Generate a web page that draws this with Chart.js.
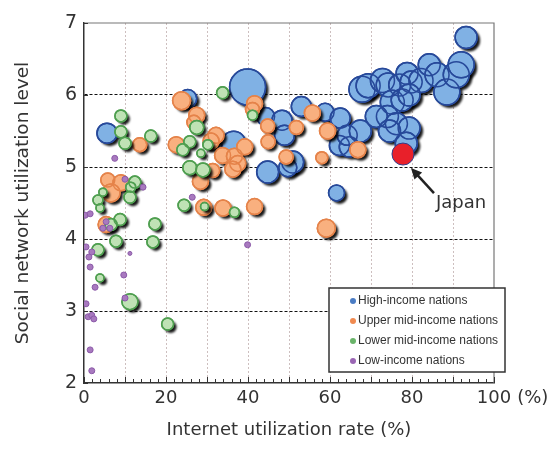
<!DOCTYPE html>
<html>
<head>
<meta charset="utf-8">
<script src="https://cdn.jsdelivr.net/npm/chart.js@4.4.1/dist/chart.umd.min.js"></script>
<style>
  html, body { margin:0; padding:0; background:#fff; }
  #wrap { width:555px; height:460px; }
</style>
</head>
<body>
<div id="wrap"><canvas id="js-sns-chart" width="555" height="460"></canvas></div>
<script>
  /* ━━━━  DATA  ━━━━ */
  // each point: [internet utilization %, social network level, bubble radius px]
  const CATEGORIES = ['High-income nations', 'Upper mid-income nations', 'Lower mid-income nations', 'Low-income nations'];
  const X_TICKS = [0, 20, 40, 60, 80, 100];
  const Y_TICKS = [2, 3, 4, 5, 6, 7];

  const highIncome = [
    [5.6,5.47,10],[25.3,5.95,9],[39.9,6.11,18],[36.5,5.33,12],[44.3,5.7,9],[48.3,5.65,10],
    [48.9,5.44,10],[53,5.84,10],[50.9,5.07,11],[49.7,4.99,9],[44.8,4.93,11],[58.8,5.76,9],
    [62.5,5.68,10],[62.3,5.3,10],[64.7,5.28,10],[64.2,5.44,10],[67.4,5.5,11],[61.6,4.64,8],
    [67.8,6.08,13],[69.3,6.13,12],[72.8,6.2,12],[74.2,6.14,12],[77,6.14,11],[78.8,6.3,11],
    [79.8,6.18,11],[82.2,6.2,12],[84.2,6.42,11],[86.1,6.28,12],[88.5,6.04,13],[90.8,6.28,13],
    [92,6.42,13],[93.2,6.8,11],[75.2,5.9,12],[77.6,5.93,11],[79.3,6.0,11],[74,5.7,11],
    [71.3,5.7,11],[76.2,5.6,11],[79.3,5.54,11],[74.5,5.5,11],[78.6,5.33,11]
  ];
  const upperMid = [
    [23.8,5.92,9],[27.5,5.72,8],[26.8,5.62,7],[22.5,5.31,8],[13.6,5.31,7],[32.2,5.44,8],
    [31,5.36,8],[33.8,5.16,8],[36.7,5.15,8],[37.5,5.05,8],[39.2,5.28,8],[36.3,4.97,8],
    [31.4,4.95,7],[28.4,4.8,8],[41.6,5.88,8],[41.1,5.8,7],[44.8,5.57,7],[44.9,5.35,7],
    [51.8,5.55,7],[49.3,5.14,7],[55.7,5.75,8],[59.4,5.5,8],[58,5.13,6],[66.8,5.24,8],
    [41.6,4.45,8],[33.9,4.43,8],[29.2,4.44,8],[59.1,4.15,9],[5.8,4.82,7],[9,4.78,8],
    [6.6,4.64,9],[5.4,4.2,8]
  ];
  const lowerMid = [
    [9,5.71,6],[9,5.49,6],[10,5.33,6],[16.3,5.43,6],[33.8,6.03,6],[41.1,5.72,5],
    [27.5,5.55,7],[30.2,5.31,5],[25.8,5.35,6],[24.1,5.24,6],[28.5,5.19,4],[25.8,4.99,7],
    [29,4.96,7],[12.4,4.79,6],[11.4,4.72,5],[4.6,4.65,4],[11.2,4.58,6],[3.4,4.54,5],
    [3.9,4.43,4],[24.4,4.47,6],[29.4,4.45,4],[36.7,4.37,5],[8.8,4.27,6],[6.6,4.2,6],
    [17.3,4.21,6],[7.8,3.97,6],[16.8,3.96,6],[3.4,3.85,6],[3.9,3.46,4],[11.2,3.13,8],
    [20.4,2.82,6]
  ];
  const lowIncome = [
    [7.5,5.12,3],[10,4.83,3],[14.4,4.72,3],[26.4,4.58,3],[0.3,4.33,3],[1.5,4.35,3],
    [5.4,4.24,3],[4.6,4.15,3],[6.3,4.15,3],[0.5,3.89,3],[1.9,3.82,3],[11.2,3.8,2],
    [1.2,3.75,3],[1.5,3.61,3],[9.7,3.5,3],[2.7,3.33,3],[0.5,3.1,3],[10,3.18,3],
    [1,2.92,3],[1.9,2.94,3],[2.4,2.89,3],[1.5,2.46,3],[1.9,2.17,3],[39.9,3.92,3]
  ];
  const japan = [[77.8,5.18,11]];

  /* ━━━━  UTILS  ━━━━ */
  const FONT = "'Liberation Sans', Arial, sans-serif";
  const WIDE = "'DejaVu Sans', sans-serif";
  const toPoints = arr => arr.map(([x, y, r]) => ({ x, y, r }));
  const getEl = id => document.getElementById(id);

  /* ━━━━  PLUGINS  ━━━━ */
  // drop shadow under each series, then outlines redrawn on top so overlaps read as rings
  const bubbleShade = {
    id: 'bubbleShade',
    beforeDatasetDraw(chart, args) {
      const ds = chart.data.datasets[args.index];
      if (!ds.shadow) return;
      const ctx = chart.ctx;
      ctx.save();
      ctx.fillStyle = 'rgba(0,0,0,0.9)';
      ctx.filter = 'blur(1px)';
      args.meta.data.forEach(el => {
        ctx.beginPath();
        ctx.arc(el.x + 3, el.y + 3, el.options.radius, 0, Math.PI * 2);
        ctx.fill();
      });
      ctx.restore();
    },
    afterDatasetDraw(chart, args) {
      const ds = chart.data.datasets[args.index];
      if (!ds.shadow) return;
      const ctx = chart.ctx;
      ctx.save();
      args.meta.data.forEach(el => {
        ctx.beginPath();
        ctx.arc(el.x, el.y, el.options.radius, 0, Math.PI * 2);
        ctx.lineWidth = el.options.borderWidth;
        ctx.strokeStyle = el.options.borderColor;
        ctx.stroke();
      });
      ctx.restore();
    }
  };

  // frame, minor ticks, "(%)" unit
  const frame = {
    id: 'frame',
    beforeDatasetsDraw(chart) {
      const { ctx, chartArea: a, scales: { x, y } } = chart;
      ctx.save();
      ctx.strokeStyle = '#777';
      ctx.lineWidth = 1.2;
      ctx.beginPath();
      ctx.moveTo(a.left, a.top); ctx.lineTo(a.right, a.top); ctx.lineTo(a.right, a.bottom);
      ctx.stroke();
      ctx.strokeStyle = '#333';
      ctx.lineWidth = 1;
      ctx.beginPath();
      for (let v = 0; v <= 100; v += 2) {
        const px = Math.round(x.getPixelForValue(v)) + 0.5;
        const len = v % 10 === 0 ? 6 : 4;
        ctx.moveTo(px, a.bottom); ctx.lineTo(px, a.bottom - len);
      }
      Y_TICKS.forEach(v => {
        const py = Math.round(y.getPixelForValue(v)) + 0.5;
        ctx.moveTo(a.left, py); ctx.lineTo(a.left + 4, py);
      });
      ctx.stroke();
      ctx.restore();
    },
    afterDraw(chart) {
      const { ctx, chartArea: a, scales: { x } } = chart;
      ctx.save();
      ctx.font = '18px ' + WIDE;
      ctx.fillStyle = '#333';
      ctx.textBaseline = 'middle';
      const px = x.getPixelForValue(100) + ctx.measureText('100').width / 2 + 6;
      ctx.fillText('(%)', px, a.bottom + 15);
      ctx.restore();
    }
  };

  // Japan call-out
  const japanNote = {
    id: 'japanNote',
    afterDatasetsDraw(chart) {
      const idx = chart.data.datasets.findIndex(d => d.label === 'Japan');
      const el = chart.getDatasetMeta(idx).data[0];
      if (!el) return;
      const ctx = chart.ctx;
      const tx = el.x + 8, ty = el.y + 14, fx = el.x + 31, fy = el.y + 39;
      const ang = Math.atan2(ty - fy, tx - fx);
      ctx.save();
      ctx.strokeStyle = '#222';
      ctx.fillStyle = '#222';
      ctx.lineWidth = 2.5;
      ctx.beginPath();
      ctx.moveTo(fx, fy);
      ctx.lineTo(tx - Math.cos(ang) * 8, ty - Math.sin(ang) * 8);
      ctx.stroke();
      ctx.beginPath();
      ctx.moveTo(tx, ty);
      ctx.lineTo(tx - Math.cos(ang - 0.45) * 12, ty - Math.sin(ang - 0.45) * 12);
      ctx.lineTo(tx - Math.cos(ang + 0.45) * 12, ty - Math.sin(ang + 0.45) * 12);
      ctx.closePath();
      ctx.fill();
      ctx.fillStyle = '#333';
      ctx.font = '18px ' + WIDE;
      ctx.textBaseline = 'middle';
      ctx.fillText('Japan', el.x + 33, el.y + 49);
      ctx.restore();
    }
  };

  // legend box inside the plot, lower right
  const boxLegend = {
    id: 'boxLegend',
    afterDatasetsDraw(chart) {
      const { ctx, chartArea: a } = chart;
      const left = a.right - 165, top = a.bottom - 95, w = 176, h = 84;
      ctx.save();
      ctx.fillStyle = '#fff';
      ctx.fillRect(left, top, w, h);
      ctx.strokeStyle = '#333';
      ctx.lineWidth = 1.5;
      ctx.strokeRect(left, top, w, h);
      ctx.font = '12px ' + FONT;
      ctx.textBaseline = 'middle';
      CATEGORIES.forEach((name, i) => {
        const ds = chart.data.datasets.find(d => d.label === name);
        const cy = top + 13 + i * 20;
        ctx.beginPath();
        ctx.arc(left + 24, cy, 3, 0, Math.PI * 2);
        ctx.fillStyle = ds.legendColor;
        ctx.fill();
        ctx.fillStyle = '#333';
        ctx.fillText(name, left + 29, cy);
      });
      ctx.restore();
    }
  };

  /* ━━━━  CHART  ━━━━ */
  function drawChart() {
    const series = [
      { label: 'Japan', pts: japan, bg: '#e8202a', bd: '#2d3e8c', bw: 1, order: 0, shadow: false, lc: '#e8202a' },
      { label: CATEGORIES[3], pts: lowIncome, bg: '#a879bf', bd: '#8b5aa8', bw: 1, order: 1, shadow: false, lc: '#9a66b4' },
      { label: CATEGORIES[2], pts: lowerMid, bg: '#bfe2b5', bd: '#4f9f50', bw: 1.5, order: 2, shadow: true, lc: '#6ab46a' },
      { label: CATEGORIES[1], pts: upperMid, bg: '#f9b07f', bd: '#e5834a', bw: 1.5, order: 3, shadow: true, lc: '#f08a50' },
      { label: CATEGORIES[0], pts: highIncome, bg: '#80b1e4', bd: '#27499a', bw: 1.5, order: 4, shadow: true, lc: '#4a7cc4' }
    ];

    new Chart(getEl('js-sns-chart').getContext('2d'), {
      type: 'bubble',
      data: {
        datasets: series.map(s => ({
          label: s.label,
          data: toPoints(s.pts),
          backgroundColor: s.bg,
          borderColor: s.bd,
          borderWidth: s.bw,
          order: s.order,
          shadow: s.shadow,
          legendColor: s.lc
        }))
      },
      options: {
        responsive: false,
        animation: false,
        events: [],
        layout: { padding: { top: 23, right: 61, left: 0, bottom: 0 } },
        plugins: { legend: { display: false }, tooltip: { enabled: false } },
        scales: {
          x: {
            type: 'linear',
            min: 0, max: 100,
            afterFit: s => { s.height = 77; },
            ticks: {
              stepSize: 10,
              padding: 5,
              color: '#333',
              font: { size: 18, family: WIDE },
              maxRotation: 0,
              callback: v => X_TICKS.includes(v) ? String(v) : ''
            },
            grid: {
              drawTicks: false,
              color: c => (c.tick && c.tick.value > 0 && c.tick.value < 100) ? '#cdbfbf' : 'transparent',
              lineWidth: 1
            },
            border: { display: true, color: '#333', width: 1.5, dash: [2, 2] },
            title: {
              display: true,
              text: 'Internet utilization rate (%)',
              color: '#333',
              font: { size: 18, family: WIDE },
              padding: { top: 0, bottom: 19 }
            }
          },
          y: {
            type: 'linear',
            min: 2, max: 7,
            afterFit: s => { s.width = 84; },
            ticks: {
              stepSize: 1,
              padding: 7,
              color: '#333',
              font: { size: 19, family: WIDE }
            },
            grid: {
              drawTicks: false,
              color: c => (c.tick && c.tick.value > 2 && c.tick.value < 7) ? '#111' : 'transparent',
              lineWidth: 1
            },
            border: { display: true, color: '#333', width: 1.5, dash: [3, 2] },
            title: {
              display: true,
              text: 'Social network utilization level',
              color: '#333',
              font: { size: 18.5, family: WIDE },
              padding: { top: 12, bottom: 0 }
            }
          }
        }
      },
      plugins: [frame, bubbleShade, japanNote, boxLegend]
    });
  }

  /* ━━━━  INIT  ━━━━ */
  drawChart();
</script>
</body>
</html>
